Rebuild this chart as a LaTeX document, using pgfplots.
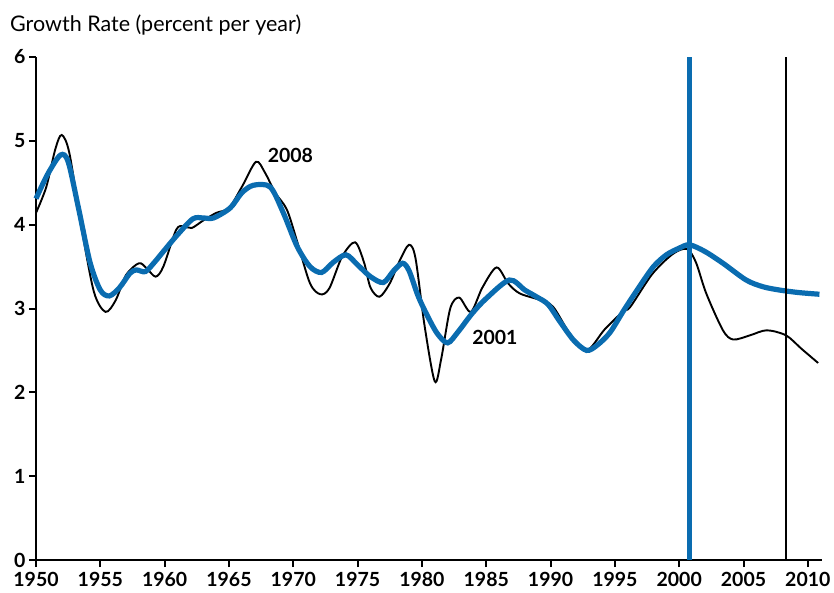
\documentclass[border=0pt]{standalone}
\usepackage{fontspec}
\setmainfont{Lato}
\usepackage{pgfplots}
\pgfplotsset{compat=1.18}
\definecolor{vintage}{RGB}{10,108,176}

\pgfplotstableread{
year rate
1950.0 4.14
1950.8 4.45
1951.5 4.90
1952.0 5.07
1952.6 4.85
1953.5 4.00
1954.5 3.20
1955.4 2.96
1956.2 3.10
1957.0 3.40
1958.0 3.54
1958.6 3.48
1959.3 3.38
1959.9 3.50
1960.9 3.94
1961.5 3.98
1962.1 3.96
1963.0 4.05
1964.0 4.14
1965.0 4.20
1966.0 4.45
1967.1 4.75
1967.8 4.62
1968.6 4.38
1969.5 4.18
1970.3 3.80
1971.3 3.30
1972.1 3.17
1972.8 3.24
1973.8 3.62
1974.8 3.79
1975.5 3.55
1976.0 3.25
1976.7 3.14
1977.5 3.30
1978.3 3.58
1979.0 3.76
1979.5 3.60
1980.2 2.80
1981.0 2.13
1981.5 2.40
1982.2 3.00
1982.9 3.13
1983.8 2.96
1984.7 3.25
1985.8 3.49
1986.7 3.30
1987.6 3.18
1989.2 3.10
1990.2 3.02
1991.5 2.70
1992.8 2.50
1994.2 2.75
1995.6 2.96
1996.2 3.02
1997.9 3.41
1999.5 3.65
2000.6 3.71
2001.3 3.55
2002.1 3.18
2003.4 2.74
2004.2 2.63
2005.5 2.68
2006.8 2.74
2008.3 2.68
2009.5 2.52
2010.8 2.35
}\vintageeight

\pgfplotstableread{
year rate
1950.0 4.31
1950.9 4.60
1951.9 4.83
1952.5 4.75
1953.3 4.20
1954.2 3.55
1955.0 3.22
1955.7 3.15
1956.5 3.25
1957.3 3.42
1957.8 3.46
1958.5 3.44
1959.2 3.55
1959.9 3.68
1961.0 3.88
1962.2 4.07
1963.0 4.08
1963.8 4.08
1965.1 4.20
1966.0 4.38
1966.9 4.47
1968.2 4.45
1969.2 4.15
1970.3 3.74
1971.3 3.50
1972.2 3.43
1973.1 3.55
1974.1 3.64
1975.0 3.52
1976.0 3.38
1977.0 3.31
1977.8 3.45
1978.5 3.54
1979.0 3.45
1979.7 3.15
1980.4 2.92
1981.2 2.70
1982.0 2.59
1982.8 2.72
1983.9 2.94
1985.0 3.12
1986.8 3.34
1988.0 3.22
1988.9 3.14
1989.8 3.05
1990.7 2.85
1991.8 2.62
1992.8 2.50
1993.6 2.56
1994.6 2.71
1995.7 2.98
1996.9 3.26
1998.0 3.50
1999.0 3.64
2000.0 3.72
2000.8 3.76
2002.0 3.68
2003.4 3.54
2005.2 3.34
2006.5 3.26
2007.8 3.22
2009.3 3.19
2010.9 3.17
}\vintageone

\begin{document}
\begin{tikzpicture}
\path[use as bounding box] (-36pt,-32pt) rectangle (798pt,560pt);
\begin{axis}[
  scale only axis,
  width=786pt, height=503pt,
  xmin=1950, xmax=2011.1, ymin=0, ymax=6,
  axis x line*=bottom, axis y line*=left,
  axis line style={line width=2.4pt, -},
  tick align=outside,
  major tick length=7pt,
  tick style={line width=2pt, black},
  xtick={1950,1955,...,2010},
  ytick={0,1,...,6},
  x tick label style={/pgf/number format/1000 sep={}},
  tick label style={font=\fontsize{19.5}{19.5}\selectfont\bfseries},
  /pgf/number format/assume math mode=true,
  xticklabel shift=2pt,
  clip=false,
]
\addplot[black, line width=1.9pt, smooth] table[x=year, y=rate] {\vintageeight};
\addplot[vintage, line width=5.2pt, smooth] table[x=year, y=rate] {\vintageone};
\addplot[vintage, line width=5pt] coordinates {(2000.8,0) (2000.8,6)};
\addplot[black, line width=1.8pt] coordinates {(2008.3,0) (2008.3,6)};
\node[anchor=west, font=\fontsize{19.5}{19.5}\selectfont\bfseries, inner sep=0pt]
  at (axis cs:1968.0,4.83) {2008};
\node[anchor=west, font=\fontsize{19.5}{19.5}\selectfont\bfseries, inner sep=0pt]
  at (axis cs:1983.9,2.65) {2001};
\end{axis}
\node[anchor=west, inner sep=0pt, font=\fontsize{21.5}{21.5}\selectfont]
  at (-26pt,535pt) {Growth Rate (percent per year)};
\end{tikzpicture}
\end{document}
